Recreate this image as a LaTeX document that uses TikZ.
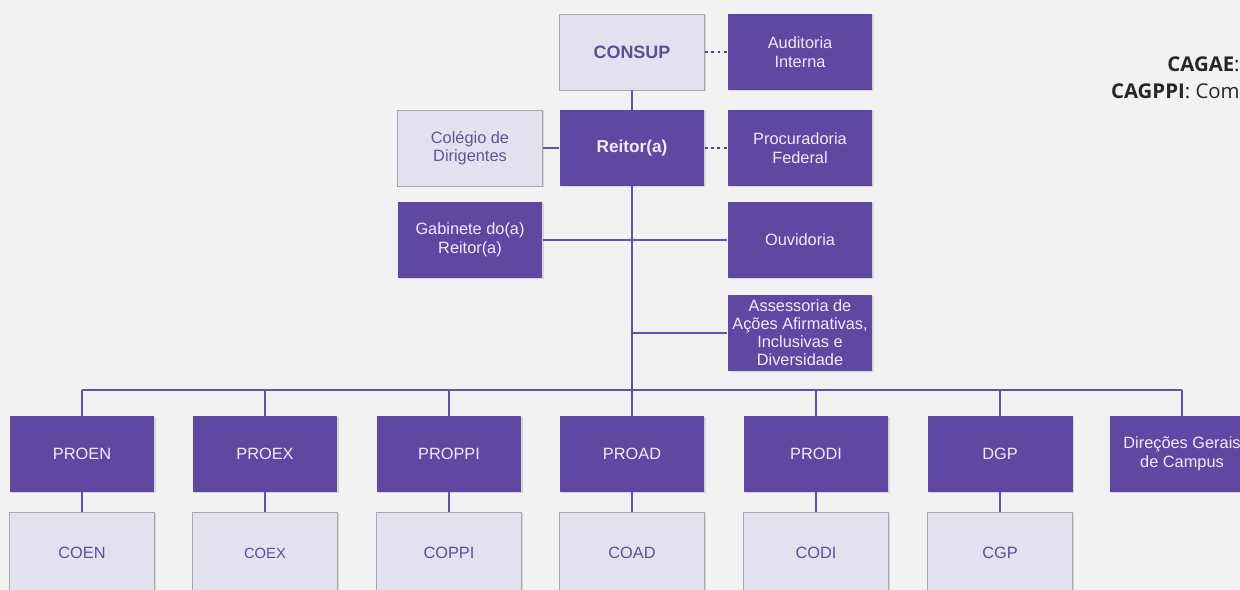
\documentclass[tikz,border=0pt]{standalone}
\usepackage{fontspec}
\setmainfont{Liberation Sans}
\newfontfamily\opensans{Open Sans}
\usetikzlibrary{shadows}
\definecolor{bgc}{HTML}{F2F2F2}
\definecolor{dkp}{HTML}{5F48A2}
\definecolor{ltp}{HTML}{E3E0F0}
\definecolor{ltt}{HTML}{5E4E96}
\definecolor{dkt}{HTML}{EEEAFA}
\definecolor{lnc}{HTML}{6650AA}
\definecolor{bdr}{HTML}{A8A6B0}
\begin{document}
\begin{tikzpicture}[x=0.02cm,y=-0.02cm,
  box/.style={rectangle,minimum width=2.9cm,minimum height=1.52cm,inner sep=1pt,align=center,
    font=\fontsize{9.3}{10.6}\selectfont,
    drop shadow={opacity=0.25,shadow xshift=0.8pt,shadow yshift=-0.8pt}},
  dk/.style={box,fill=dkp,text=dkt},
  lt/.style={box,fill=ltp,draw=bdr,line width=0.5pt,text=ltt},
  ln/.style={draw=lnc,line width=1.6pt},
  dt/.style={draw=lnc!80!black,line width=1.6pt,dotted}]
\fill[bgc] (0,0) rectangle (1240,590);
\clip (0,0) rectangle (1240,590);
% top
\node[lt,font=\fontsize{10.2}{11.6}\selectfont\bfseries] (consup) at (632,52) {CONSUP};
\node[dk] (aud) at (800,52) {Auditoria\\Interna};
\node[lt,text=ltt!85!gray] (col) at (470,148) {Colégio de\\Dirigentes};
\node[dk,font=\fontsize{9.8}{11}\selectfont\bfseries] (reitor) at (632,148) {Reitor(a)};
\node[dk] (proc) at (800,148) {Procuradoria\\Federal};
\node[dk] (gab) at (470,240) {Gabinete do(a)\\Reitor(a)};
\node[dk] (ouv) at (800,240) {Ouvidoria};
\node[dk,font=\fontsize{9.3}{10.2}\selectfont] (ass) at (800,333) {Assessoria de\\Ações Afirmativas,\\Inclusivas e\\Diversidade};
% row
\node[dk] (proen) at (82,454) {PROEN};
\node[dk] (proex) at (265,454) {PROEX};
\node[dk] (proppi) at (449,454) {PROPPI};
\node[dk] (proad) at (632,454) {PROAD};
\node[dk] (prodi) at (816,454) {PRODI};
\node[dk] (dgp) at (1000,454) {DGP};
\node[dk] (dgc) at (1182,454) {Direções Gerais\\de Campus};
\node[lt,minimum height=1.64cm] (coen) at (82,553) {COEN};
\node[lt,minimum height=1.64cm,font=\fontsize{8.4}{10}\selectfont] (coex) at (265,553) {COEX};
\node[lt,minimum height=1.64cm] (coppi) at (449,553) {COPPI};
\node[lt,minimum height=1.64cm] (coad) at (632,553) {COAD};
\node[lt,minimum height=1.64cm] (codi) at (816,553) {CODI};
\node[lt,minimum height=1.64cm] (cgp) at (1000,553) {CGP};
% legend fragments (cut at the right edge, as in the reference)
\node[anchor=east,inner sep=0pt,text=black!85,font=\opensans\fontsize{11.6}{14}\selectfont] (lg1) at (1240,64) {\textbf{CAGAE}:};
\node[anchor=east,inner sep=0pt,text=black!85,font=\opensans\fontsize{11.6}{14}\selectfont] (lg2) at (1240,91) {\textbf{CAGPPI}: Com};
% connectors
\coordinate (busL) at (82,390);
\coordinate (busR) at (1182,390);
\coordinate (busM) at (632,390);
\draw[ln] (consup.south) -- (reitor.north);
\draw[ln] (reitor.south) -- (busM);
\draw[ln] (busL) -- (busR);
\draw[ln] (col.east) -- (reitor.west);
\draw[ln] (gab.east) -- (ouv.west);
\draw[ln] (ass.west) -- (ass.west -| busM);
\draw[dt] (consup.east) -- (aud.west);
\draw[dt] (reitor.east) -- (proc.west);
\foreach \n in {proen,proex,proppi,proad,prodi,dgp,dgc}{
  \draw[ln] (\n.north) -- (\n.north |- busL);
}
\draw[ln] (proen.south) -- (coen.north);
\draw[ln] (proex.south) -- (coex.north);
\draw[ln] (proppi.south) -- (coppi.north);
\draw[ln] (proad.south) -- (coad.north);
\draw[ln] (prodi.south) -- (codi.north);
\draw[ln] (dgp.south) -- (cgp.north);
\end{tikzpicture}
\end{document}
